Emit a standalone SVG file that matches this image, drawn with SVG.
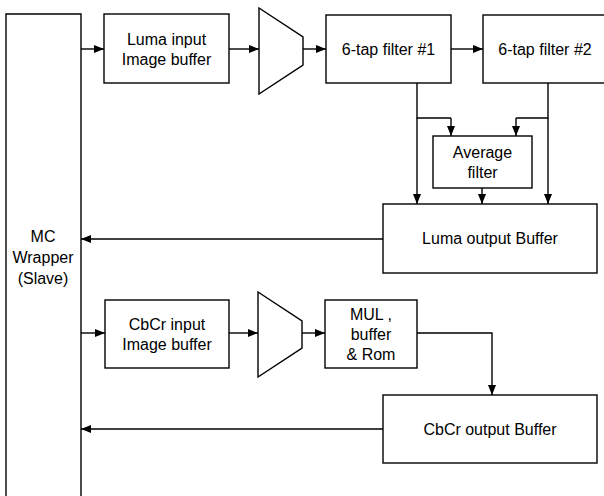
<svg xmlns="http://www.w3.org/2000/svg" width="604" height="496" viewBox="0 0 604 496">
<defs>
<marker id="arr" markerUnits="userSpaceOnUse" markerWidth="10" markerHeight="8" refX="10" refY="4" orient="auto">
<path d="M0,0 L10,4 L0,8 Z" fill="#000"/>
</marker>
</defs>
<style>
.box{fill:#fff;stroke:#000;stroke-width:1.4}
.ln{fill:none;stroke:#000;stroke-width:1.4}
.ar{fill:none;stroke:#000;stroke-width:1.4;marker-end:url(#arr)}
text{font-family:"Liberation Sans",Arial,sans-serif;font-size:16px;fill:#000;text-anchor:middle}
</style>
<rect width="604" height="496" fill="#fff"/>
<g id="connectors">
<line class="ar" x1="81" y1="49" x2="104" y2="49"/>
<line class="ar" x1="229" y1="49" x2="259" y2="49"/>
<line class="ar" x1="303" y1="49" x2="326" y2="49"/>
<line class="ar" x1="451" y1="49" x2="483" y2="49"/>
<polyline class="ln" points="417,83 417,118 451,118"/>
<line class="ar" x1="451" y1="118" x2="451" y2="136"/>
<line class="ar" x1="417" y1="118" x2="417" y2="204"/>
<polyline class="ln" points="548,83 548,118 516,118"/>
<line class="ar" x1="516" y1="118" x2="516" y2="136"/>
<line class="ar" x1="548" y1="118" x2="548" y2="204"/>
<line class="ar" x1="482" y1="188" x2="482" y2="204"/>
<line class="ar" x1="383" y1="239" x2="81" y2="239"/>
<line class="ar" x1="81" y1="333" x2="105" y2="333"/>
<line class="ar" x1="229" y1="333" x2="258" y2="333"/>
<line class="ar" x1="302" y1="333" x2="325" y2="333"/>
<polyline class="ar" points="417,333 492,333 492,395"/>
<line class="ar" x1="383" y1="429" x2="81" y2="429"/>
</g>
<g id="mc-wrapper">
<path class="ln" d="M6,498 V14 H81 V498"/>
<text x="43" y="242">MC</text>
<text x="43" y="263">Wrapper</text>
<text x="43" y="284">(Slave)</text>
</g>
<g id="luma-input">
<rect class="box" x="104" y="14" width="125" height="69"/>
<text x="166.5" y="45">Luma input</text>
<text x="166.5" y="65">Image buffer</text>
</g>
<g id="luma-mux">
<polygon class="box" points="259,8 303,37 303,65 259,94"/>
</g>
<g id="filter1">
<rect class="box" x="326" y="15" width="125" height="68"/>
<text x="388.5" y="55">6-tap filter #1</text>
</g>
<g id="filter2">
<rect class="box" x="483" y="15" width="125" height="68"/>
<text x="545" y="55">6-tap filter #2</text>
</g>
<g id="average-filter">
<rect class="box" x="433" y="136" width="99" height="52"/>
<text x="482.5" y="158">Average</text>
<text x="482.5" y="178">filter</text>
</g>
<g id="luma-output">
<rect class="box" x="383" y="204" width="214" height="69"/>
<text x="490" y="244">Luma output Buffer</text>
</g>
<g id="cbcr-input">
<rect class="box" x="105" y="300" width="124" height="68"/>
<text x="167" y="330">CbCr input</text>
<text x="167" y="350">Image buffer</text>
</g>
<g id="cbcr-mux">
<polygon class="box" points="258,292 302,321 302,348 258,377"/>
</g>
<g id="mul">
<rect class="box" x="325" y="300" width="92" height="68"/>
<text x="371" y="320">MUL ,</text>
<text x="371" y="340">buffer</text>
<text x="371" y="360">&amp; Rom</text>
</g>
<g id="cbcr-output">
<rect class="box" x="383" y="395" width="214" height="68"/>
<text x="490" y="435">CbCr output Buffer</text>
</g>
</svg>
